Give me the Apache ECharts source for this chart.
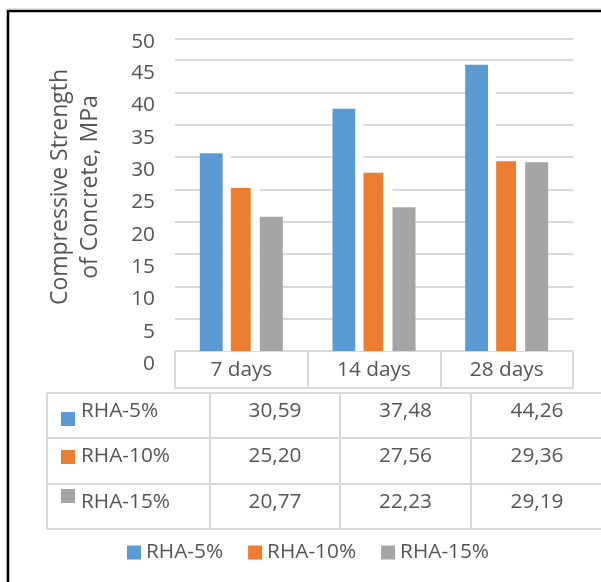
<!DOCTYPE html>
<html>
<head>
<meta charset="utf-8">
<style>
  html, body { margin: 0; padding: 0; background: #fff; }
  #chart { width: 601px; height: 582px; }
</style>
<script src="https://cdn.jsdelivr.net/npm/echarts@6/dist/echarts.min.js"></script>
</head>
<body>
<div id="chart"></div>
<script>
// Compressive strength of concrete with rice husk ash (RHA) replacement
const categories = ['7 days', '14 days', '28 days'];
const seriesNames = ['RHA-5%', 'RHA-10%', 'RHA-15%'];
const rha5 = [30.59, 37.48, 44.26];
const rha10 = [25.20, 27.56, 29.36];
const rha15 = [20.77, 22.23, 29.19];
const yTickLabels = ['0', '5', '10', '15', '20', '25', '30', '35', '40', '45', '50'];

const colors = ['#5b9bd5', '#ed7d31', '#a5a5a5'];
const textColor = '#555555';
const lineColor = '#d9d9d9';
const font = '"Open Sans", sans-serif';
const fs = 20.8;

const chart = echarts.init(document.getElementById('chart'), null, { renderer: 'canvas' });

const fmt = v => v.toFixed(2).replace('.', ',');

// data table under the chart
const colX = [47, 210, 340, 471, 603];
const rowY = [393, 438, 484, 529];
const keyTop = [412, 450, 489];
const tableValues = [rha5, rha10, rha15];
const graphics = [];

rowY.forEach(y => {
  graphics.push({ type: 'line', shape: { x1: colX[0], y1: y, x2: colX[colX.length - 1], y2: y },
    style: { stroke: lineColor, lineWidth: 2 }, silent: true });
});
colX.forEach(x => {
  graphics.push({ type: 'line', shape: { x1: x, y1: rowY[0], x2: x, y2: rowY[rowY.length - 1] },
    style: { stroke: lineColor, lineWidth: 2 }, silent: true });
});
seriesNames.forEach((name, r) => {
  const cy = (rowY[r] + rowY[r + 1]) / 2 - 4.5;
  graphics.push({ type: 'rect', shape: { x: 61, y: keyTop[r], width: 14, height: 14 },
    style: { fill: colors[r] }, silent: true });
  graphics.push({ type: 'text', x: 81, y: cy,
    style: { text: name, fill: textColor, font: fs + 'px ' + font, textAlign: 'left', textVerticalAlign: 'middle' },
    silent: true });
  tableValues[r].forEach((v, c) => {
    graphics.push({ type: 'text', x: (colX[c + 1] + colX[c + 2]) / 2, y: cy,
      style: { text: fmt(v), fill: textColor, font: fs + 'px ' + font, textAlign: 'center', textVerticalAlign: 'middle' },
      silent: true });
  });
});
// outer frame
graphics.push({ type: 'rect', shape: { x: 6, y: 8.5, width: 640, height: 640 },
  style: { fill: 'none', stroke: '#e4e4e4', lineWidth: 1 }, silent: true });
graphics.push({ type: 'rect', shape: { x: 8, y: 11, width: 640, height: 640 },
  style: { fill: 'none', stroke: '#000', lineWidth: 2.5 }, silent: true });

function barSeries(name, data, color, width) {
  return {
    name: name, type: 'bar', data: data, barWidth: width, barGap: '0%',
    itemStyle: { color: color }, silent: true
  };
}

const option = {
  animation: false,
  textStyle: { fontFamily: font },
  grid: { left: 175, top: 39, width: 398, height: 312, containLabel: false },
  legend: {
    data: seriesNames, left: 127, top: 542, padding: 0,
    icon: 'rect', itemWidth: 14, itemHeight: 14, itemGap: 25,
    textStyle: { color: textColor, fontSize: fs, fontFamily: font }
  },
  xAxis: [{
    type: 'category', data: categories, position: 'bottom',
    axisLine: { show: true, lineStyle: { color: lineColor, width: 2 } },
    axisTick: { show: true, length: 37, lineStyle: { color: lineColor, width: 2 } },
    axisLabel: { color: textColor, fontSize: fs, fontFamily: font, margin: 9 },
    splitLine: { show: false }
  }, {
    type: 'category', data: categories, position: 'bottom', offset: 37,
    axisLine: { show: true, lineStyle: { color: lineColor, width: 2 } },
    axisTick: { show: false }, axisLabel: { show: false }, splitLine: { show: false }
  }],
  yAxis: {
    type: 'value', min: 0, max: 48.25, interval: 5,
    name: 'Compressive Strength\nof Concrete, MPa',
    nameLocation: 'middle', nameRotate: 90, nameGap: 70,
    nameTextStyle: { color: textColor, fontSize: 23, lineHeight: 30, fontFamily: font, padding: [0, 0, 0, 16] },
    axisLine: { show: false }, axisTick: { show: false },
    splitLine: { show: true, lineStyle: { color: lineColor, width: 2 } },
    axisLabel: {
      margin: 20,
      formatter: (value, index) => {
        const label = yTickLabels[index];
        return index === yTickLabels.length - 1 ? '{t|' + label + '}' : '{n|' + label + '}';
      },
      rich: {
        n: { color: textColor, fontSize: fs, fontFamily: font, padding: [26, 0, 0, 0] },
        t: { color: textColor, fontSize: fs, fontFamily: font, padding: [6, 0, 0, 0] }
      }
    }
  },
  series: [
    barSeries(seriesNames[0], rha5, colors[0], 23),
    barSeries('gapA', rha5, '#ffffff', 8),
    barSeries(seriesNames[1], rha10, colors[1], 20),
    barSeries('gapB', rha10, '#ffffff', 9),
    barSeries(seriesNames[2], rha15, colors[2], 23)
  ],
  graphic: graphics
};

chart.setOption(option);
</script>
</body>
</html>
